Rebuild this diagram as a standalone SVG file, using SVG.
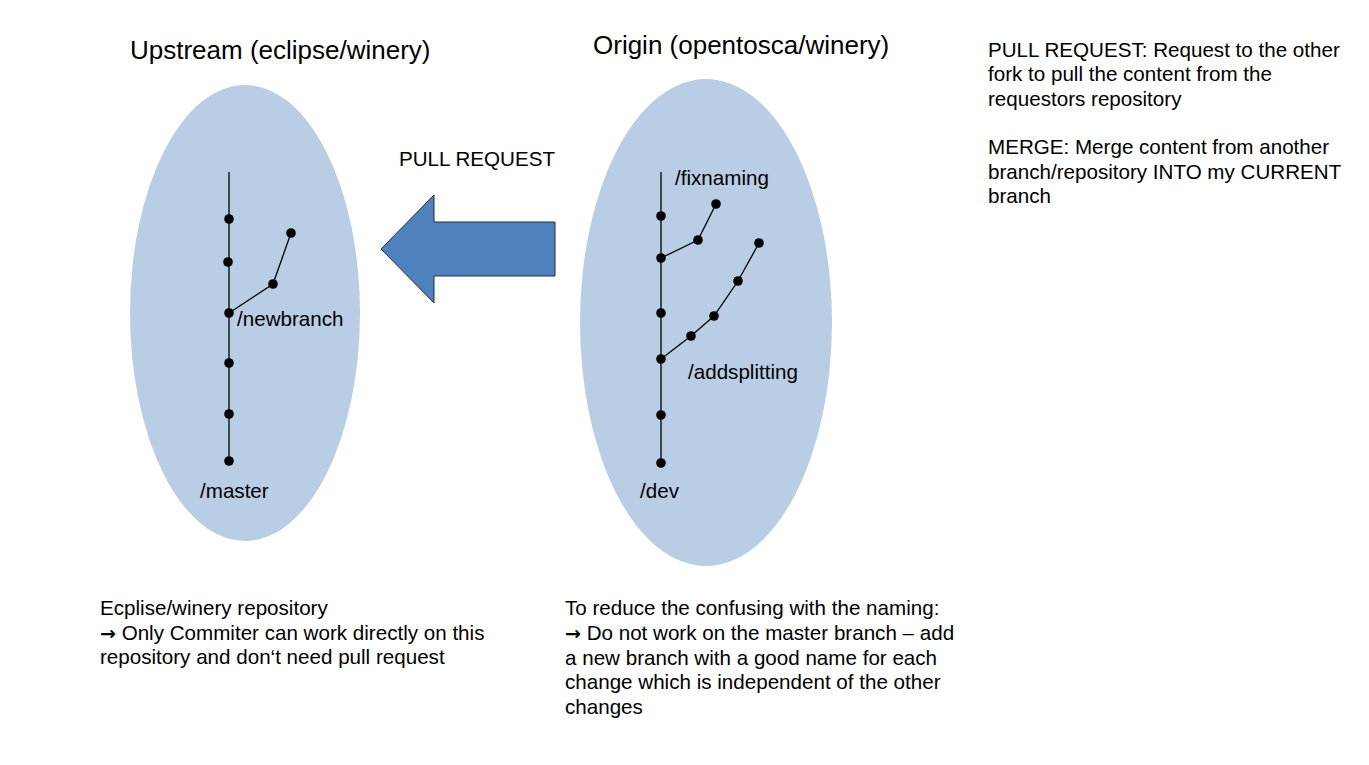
<svg xmlns="http://www.w3.org/2000/svg" width="1369" height="765" viewBox="0 0 1369 765">
<style>
text{font-family:"Liberation Sans",Arial,sans-serif;fill:#000}
.t{font-size:26px}
.b{font-size:20.6px}
.ar{font-family:"DejaVu Sans",sans-serif;font-size:19px;font-weight:bold}
.repo{fill:#b9cde5}
.ln{stroke:#000;stroke-width:1.3;fill:none}
.dot{fill:#000}
</style>
<rect width="1369" height="765" fill="#fff"/>
<g id="upstream">
<ellipse class="repo" cx="245" cy="313" rx="115" ry="228"/>
<text class="t" x="130" y="59">Upstream (eclipse/winery)</text>
</g>
<g id="origin">
<ellipse class="repo" cx="706" cy="322.5" rx="126" ry="243.5"/>
<text class="t" x="593" y="54">Origin (opentosca/winery)</text>
</g>
<g id="connectors">
<line class="ln" x1="229" y1="172" x2="229" y2="461"/>
<polyline class="ln" points="229,313 273,284 291,233"/>
<line class="ln" x1="661" y1="172" x2="661" y2="462"/>
<polyline class="ln" points="661,258 698,240 716,204"/>
<polyline class="ln" points="661,359 691,336 714,316 738,281 759,243"/>
</g>
<g id="master-branch">
<circle class="dot" cx="229" cy="219" r="4.8"/>
<circle class="dot" cx="228" cy="262" r="4.8"/>
<circle class="dot" cx="229" cy="313" r="4.8"/>
<circle class="dot" cx="229" cy="363" r="4.8"/>
<circle class="dot" cx="229" cy="414" r="4.8"/>
<circle class="dot" cx="229" cy="461" r="4.8"/>
<text class="b" x="200" y="498">/master</text>
</g>
<g id="newbranch">
<circle class="dot" cx="273" cy="284" r="4.8"/>
<circle class="dot" cx="291" cy="233" r="4.8"/>
<text class="b" x="237" y="326">/newbranch</text>
</g>
<g id="dev-branch">
<circle class="dot" cx="661" cy="216" r="4.8"/>
<circle class="dot" cx="661" cy="258" r="4.8"/>
<circle class="dot" cx="661" cy="313" r="4.8"/>
<circle class="dot" cx="661" cy="359" r="4.8"/>
<circle class="dot" cx="661" cy="415" r="4.8"/>
<circle class="dot" cx="661" cy="463" r="4.8"/>
<text class="b" x="640" y="498">/dev</text>
</g>
<g id="fixnaming">
<circle class="dot" cx="698" cy="240" r="4.8"/>
<circle class="dot" cx="716" cy="204" r="4.8"/>
<text class="b" x="675" y="185">/fixnaming</text>
</g>
<g id="addsplitting">
<circle class="dot" cx="691" cy="336" r="4.8"/>
<circle class="dot" cx="714" cy="316" r="4.8"/>
<circle class="dot" cx="738" cy="281" r="4.8"/>
<circle class="dot" cx="759" cy="243" r="4.8"/>
<text class="b" x="688" y="379">/addsplitting</text>
</g>
<g id="pull-request-arrow">
<polygon points="381,249 434,195 434,222 555,222 555,276 434,276 434,303" fill="#4f81bd" stroke="#1f2f4a" stroke-width="1"/>
<text class="b" x="399" y="166">PULL REQUEST</text>
</g>
<g id="legend">
<text class="b" x="988" y="57">PULL REQUEST: Request to the other</text>
<text class="b" x="988" y="81">fork to pull the content from the</text>
<text class="b" x="988" y="106">requestors repository</text>
<text class="b" x="988" y="154">MERGE: Merge content from another</text>
<text class="b" x="988" y="179">branch/repository INTO my CURRENT</text>
<text class="b" x="988" y="203">branch</text>
</g>
<g id="upstream-note">
<text class="b" x="100" y="615">Ecplise/winery repository</text>
<text class="b" x="100" y="640"><tspan class="ar">→</tspan> Only Commiter can work directly on this</text>
<text class="b" x="100" y="664">repository and don‘t need pull request</text>
</g>
<g id="origin-note">
<text class="b" x="565" y="615">To reduce the confusing with the naming:</text>
<text class="b" x="565" y="640"><tspan class="ar">→</tspan> Do not work on the master branch – add</text>
<text class="b" x="565" y="665">a new branch with a good name for each</text>
<text class="b" x="565" y="689">change which is independent of the other</text>
<text class="b" x="565" y="714">changes</text>
</g>
</svg>
